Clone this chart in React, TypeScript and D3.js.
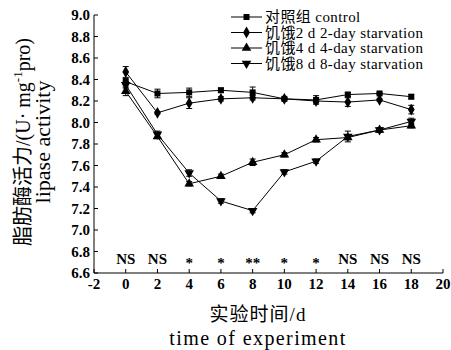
import * as d3 from "d3";

const days = [0, 2, 4, 6, 8, 10, 12, 14, 16, 18];
const control = [8.38, 8.27, 8.28, 8.3, 8.28, 8.22, 8.21, 8.26, 8.27, 8.24];
const starve2 = [8.47, 8.09, 8.18, 8.22, 8.23, 8.22, 8.2, 8.19, 8.21, 8.12];
const starve4 = [8.29, 7.87, 7.43, 7.5, 7.63, 7.7, 7.84, 7.86, 7.93, 7.97];
const starve8 = [8.35, 7.89, 7.53, 7.27, 7.18, 7.54, 7.64, 7.87, 7.93, 8.01];
const errControl = [0.03, 0.04, 0.04, 0.02, 0.05, 0.01, 0.04, 0.02, 0.01, 0.02];
const err2 = [0.05, 0.01, 0.05, 0.02, 0.02, 0.01, 0.02, 0.04, 0.01, 0.04];
const err4 = [0.04, 0.02, 0.02, 0.02, 0.03, 0.02, 0.02, 0.02, 0.02, 0.02];
const err8 = [0.03, 0.03, 0.03, 0.02, 0.02, 0.02, 0.02, 0.05, 0.02, 0.03];
const signif = ["NS", "NS", "*", "*", "**", "*", "*", "NS", "NS", "NS"];
const legendLabels = [
  "对照组 control",
  "饥饿2 d 2-day starvation",
  "饥饿4 d 4-day starvation",
  "饥饿8 d 8-day starvation",
];
const xTicks = [-2, 0, 2, 4, 6, 8, 10, 12, 14, 16, 18, 20];
const yTicks = [6.6, 6.8, 7.0, 7.2, 7.4, 7.6, 7.8, 8.0, 8.2, 8.4, 8.6, 8.8, 9.0];

const FONT = '"Liberation Serif", "DejaVu Serif", "Noto Sans CJK SC", serif';

const series = [
  { values: control, err: errControl, symbol: d3.symbolSquare, size: 36, rot: 0 },
  { values: starve2, err: err2, symbol: d3.symbolDiamond, size: 40, rot: 0 },
  { values: starve4, err: err4, symbol: d3.symbolTriangle, size: 40, rot: 0 },
  { values: starve8, err: err8, symbol: d3.symbolTriangle, size: 40, rot: 180 },
];

export default function App() {
  const width = 451;
  const height = 350;
  const x = d3.scaleLinear().domain([-2, 20]).range([94, 443]);
  const y = d3.scaleLinear().domain([6.6, 9.0]).range([273, 15]);
  const line = d3
    .line<number>()
    .x((_, i) => x(days[i]))
    .y((d) => y(d));

  return (
    <svg
      width={width}
      height={height}
      style={{ position: "absolute", left: 0, top: 0, background: "#fff" }}
      fontFamily={FONT}
    >
      {/* axes */}
      <line x1={x(-2)} x2={x(20)} y1={y(6.6)} y2={y(6.6)} stroke="#000" strokeWidth={1} />
      <line x1={x(-2)} x2={x(-2)} y1={y(6.6)} y2={y(9.0)} stroke="#000" strokeWidth={1} />
      {xTicks.map((t) => (
        <g key={"xt" + t}>
          <line x1={x(t)} x2={x(t)} y1={y(6.6)} y2={y(6.6) - 4} stroke="#000" />
          <text x={x(t)} y={y(6.6) + 16} textAnchor="middle" fontSize={15} fontWeight="bold">
            {t}
          </text>
        </g>
      ))}
      {yTicks.map((t) => (
        <g key={"yt" + t}>
          <line x1={x(-2)} x2={x(-2) + 4} y1={y(t)} y2={y(t)} stroke="#000" />
          <text x={x(-2) - 4} y={y(t) + 5} textAnchor="end" fontSize={15} fontWeight="bold">
            {t.toFixed(1)}
          </text>
        </g>
      ))}

      {/* significance marks */}
      {signif.map((s, i) => (
        <text
          key={"s" + i}
          x={x(days[i])}
          y={s === "NS" ? 264 : 268}
          textAnchor="middle"
          fontSize={15}
          fontWeight="bold"
        >
          {s}
        </text>
      ))}

      {/* series */}
      {series.map((s, si) => (
        <g key={"ser" + si}>
          <path d={line(s.values) || ""} fill="none" stroke="#000" strokeWidth={1} />
          {s.values.map((v, i) => (
            <g key={i}>
              <line x1={x(days[i])} x2={x(days[i])} y1={y(v - s.err[i])} y2={y(v + s.err[i])} stroke="#000" />
              <line x1={x(days[i]) - 3} x2={x(days[i]) + 3} y1={y(v + s.err[i])} y2={y(v + s.err[i])} stroke="#000" />
              <line x1={x(days[i]) - 3} x2={x(days[i]) + 3} y1={y(v - s.err[i])} y2={y(v - s.err[i])} stroke="#000" />
              <path
                d={d3.symbol().type(s.symbol).size(s.size)() || ""}
                transform={`translate(${x(days[i])},${y(v)}) rotate(${s.rot})`}
                fill="#000"
              />
            </g>
          ))}
        </g>
      ))}

      {/* legend */}
      {legendLabels.map((lab, i) => {
        const ly = 17 + i * 15.5;
        const s = series[i];
        return (
          <g key={"lg" + i}>
            <line x1={231} x2={262} y1={ly} y2={ly} stroke="#000" />
            <path
              d={d3.symbol().type(s.symbol).size(s.size)() || ""}
              transform={`translate(246.5,${ly}) rotate(${s.rot})`}
              fill="#000"
            />
            <text x={265} y={ly + 5} fontSize={15} letterSpacing={0.4}>
              {lab}
            </text>
          </g>
        );
      })}

      {/* axis titles */}
      <text x={258} y={321} textAnchor="middle" fontSize={19} letterSpacing={1}>
        实验时间/d
      </text>
      <text x={258} y={345} textAnchor="middle" fontSize={20} letterSpacing={1.4}>
        time of experiment
      </text>
      <g transform="translate(30,142) rotate(-90)">
        <text x={0} y={0} textAnchor="middle" fontSize={20}>
          脂肪酶活力/(U· mg
          <tspan fontSize={13} dy={-8}>
            -1
          </tspan>
          <tspan dy={8}>pro)</tspan>
        </text>
        <text x={0} y={20} textAnchor="middle" fontSize={22}>
          lipase activity
        </text>
      </g>
    </svg>
  );
}
